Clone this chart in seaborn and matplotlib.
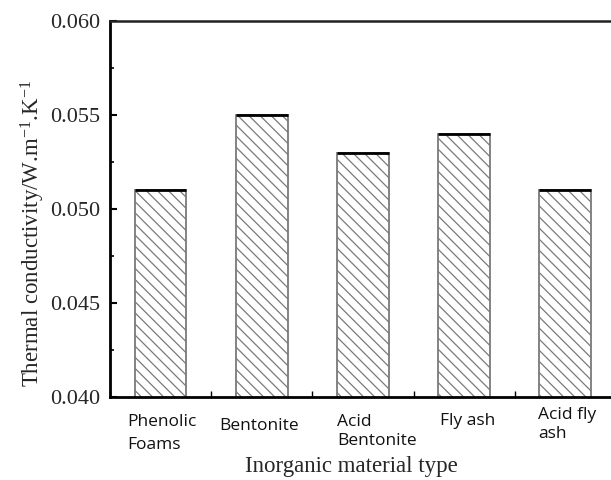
import matplotlib
matplotlib.use("Agg")
import matplotlib.pyplot as plt
import matplotlib.transforms as mtransforms
from matplotlib.ticker import MultipleLocator
import seaborn as sns
import pandas as pd

# Thermal conductivity of phenolic foams with different inorganic fillers
materials = ["Phenolic\nFoams", "Bentonite", "Acid\nBentonite", "Fly ash", "Acid fly\nash"]
conductivity = [0.051, 0.055, 0.053, 0.054, 0.051]
yticks = [0.040, 0.045, 0.050, 0.055, 0.060]
ytick_labels = ["0.040", "0.045", "0.050", "0.055", "0.060"]

df = pd.DataFrame({"material": materials, "k": conductivity})

sns.set_theme(style="white")
plt.rcParams["font.family"] = ["Liberation Serif", "DejaVu Serif"]
plt.rcParams["mathtext.fontset"] = "custom"
plt.rcParams["mathtext.rm"] = "Liberation Serif"
plt.rcParams["mathtext.it"] = "Liberation Serif:italic"
plt.rcParams["hatch.color"] = "#555555"
plt.rcParams["hatch.linewidth"] = 0.9

fig = plt.figure(figsize=(6.11, 4.8), dpi=100)
ax = fig.add_axes([0.18, 0.173, 0.828, 0.783])

sns.barplot(data=df, x="material", y="k", color="white", width=0.51,
            edgecolor="#7a7a7a", linewidth=1.3, saturation=1, ax=ax)
for bar in ax.patches:
    bar.set_hatch("\\\\\\")
    bar.set_facecolor("white")

# dark cap line along each bar top
ax.hlines(conductivity, [i - 0.255 for i in range(len(materials))],
          [i + 0.255 for i in range(len(materials))], colors="black", linewidth=2.0, zorder=5)

ax.set_xlim(-0.5, 4.5)
ax.set_ylim(0.040, 0.060)
ax.yaxis.set_minor_locator(MultipleLocator(0.0025))
ax.xaxis.set_minor_locator(MultipleLocator(0.5))
ax.set_yticks(yticks)
ax.set_yticklabels(ytick_labels, fontsize=16)

ax.tick_params(axis="both", which="both", direction="in", color="black")
ax.tick_params(axis="y", which="major", length=5, width=1.5, left=True, pad=7)
ax.tick_params(axis="y", which="minor", length=3, width=1.2, left=True)
ax.tick_params(axis="x", which="both", length=4, width=1.0, bottom=True, labelbottom=False)

for side in ["left", "bottom"]:
    ax.spines[side].set_color("black")
    ax.spines[side].set_linewidth(2.0)
ax.spines["top"].set_color("#222222")
ax.spines["top"].set_linewidth(1.8)
ax.spines["right"].set_visible(False)

# category labels, left aligned under each bar
label_dx = [-33, -43, -26, -24, -27]   # pixels from bar centre to text left edge
label_dy = [-17, -21, -17, -16, -10]   # pixels from axis line to text top
label_ls = [1.55, 1.3, 1.25, 1.25, 1.25]
for i, name in enumerate(materials):
    trans = ax.get_xaxis_transform() + mtransforms.ScaledTranslation(
        label_dx[i] / 100, label_dy[i] / 100, fig.dpi_scale_trans)
    ax.text(i, 0, name, transform=trans, ha="left", va="top", fontsize=12.5,
            family=["Open Sans", "DejaVu Sans"], color="#111111",
            linespacing=label_ls[i])

ax.set_xlabel("Inorganic material type", fontsize=16.5)
ax.xaxis.set_label_coords(0.478, -0.157)
ax.set_ylabel(r"Thermal conductivity/W.m$^{\mathrm{-}1}$.K$^{\mathrm{-}1}$", fontsize=16.5)
ax.yaxis.set_label_coords(-0.124, 0.434)

fig.savefig("out.png", dpi=100)
